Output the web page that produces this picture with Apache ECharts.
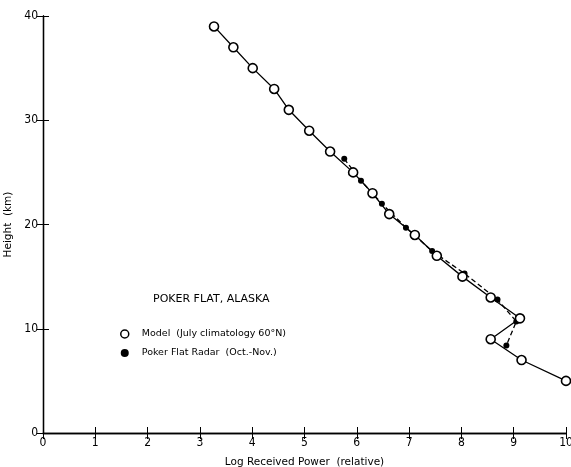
<!DOCTYPE html>
<html>
<head>
<meta charset="utf-8">
<script src="https://cdn.jsdelivr.net/npm/echarts@6/dist/echarts.min.js"></script>
<style>
  html, body { margin: 0; padding: 0; background: #fff; }
  #main { width: 571px; height: 467px; }
</style>
</head>
<body>
<div id="main"></div>
<script>
// model profile (open circles)
var modelPower = [3.27, 3.64, 4.01, 4.42, 4.70, 5.09, 5.49, 5.93, 6.30, 6.62, 7.11, 7.53, 8.02, 8.56, 9.12, 8.56, 9.15, 10.0];
var modelHeight = [39, 37, 35, 33, 31, 29, 27, 25, 23, 21, 19, 17, 15, 13, 11, 9, 7, 5];
// radar profile (filled dots)
var radarPower = [5.76, 6.08, 6.48, 6.94, 7.44, 8.06, 8.69, 9.05, 8.86];
var radarHeight = [26.3, 24.2, 22.0, 19.7, 17.45, 15.3, 12.8, 10.7, 8.4];

var modelName = 'Model  (July climatology 60°N)';
var radarName = 'Poker Flat Radar  (Oct.-Nov.)';

function pairs(xs, ys) {
    var out = [];
    for (var i = 0; i < xs.length; i++) {
        out.push([xs[i], ys[i]]);
    }
    return out;
}

var font = "'Liberation Sans Narrow', 'DejaVu Sans Condensed', sans-serif";
var axisLine = {show: true, lineStyle: {color: '#000', width: 1.3}};

var chart = echarts.init(document.getElementById('main'));
chart.setOption({
    animation: false,
    backgroundColor: '#fff',
    grid: {left: 43, right: 5, top: 16, bottom: 34, outerBoundsMode: 'none', containLabel: false},
    title: {
        text: 'POKER FLAT, ALASKA',
        left: 148, top: 289,
        textStyle: {fontFamily: 'DejaVu Sans', fontSize: 11, fontWeight: 'normal', color: '#000'}
    },
    legend: {
        orient: 'vertical',
        left: 115, top: 324,
        itemGap: 9,
        itemWidth: 8, itemHeight: 8,
        textStyle: {fontFamily: 'DejaVu Sans', fontSize: 9.5, color: '#000', padding: [0, 0, 0, 8]},
        data: [
            {name: modelName, icon: 'circle', itemStyle: {color: '#fff', borderColor: '#000', borderWidth: 1.5}},
            {name: radarName, icon: 'circle', itemStyle: {color: '#000', borderWidth: 0}}
        ]
    },
    xAxis: [{
        type: 'value', min: 0, max: 10, interval: 1,
        name: 'Log Received Power  (relative)',
        nameLocation: 'middle', nameGap: 24,
        nameTextStyle: {fontFamily: 'DejaVu Sans', fontSize: 10.5, color: '#000'},
        axisLine: axisLine,
        axisTick: {inside: true, length: 6, lineStyle: {color: '#000', width: 1}},
        axisLabel: {fontFamily: font, fontSize: 12, color: '#000', margin: 4},
        splitLine: {show: false}
    }, {
        type: 'value', min: 0, max: 10, interval: 1, position: 'top',
        axisLine: axisLine,
        axisTick: {inside: true, length: 6, lineStyle: {color: '#000', width: 1}},
        axisLabel: {show: false},
        splitLine: {show: false}
    }],
    yAxis: [{
        type: 'value', min: 0, max: 40, interval: 10,
        name: 'Height  (km)',
        nameLocation: 'middle', nameGap: 29, nameMoveOverlap: false,
        nameTextStyle: {fontFamily: 'DejaVu Sans', fontSize: 10.5, color: '#000'},
        axisLine: axisLine,
        axisTick: {inside: true, length: 6, lineStyle: {color: '#000', width: 1}},
        axisLabel: {fontFamily: font, fontSize: 12, color: '#000', margin: 5},
        splitLine: {show: false}
    }, {
        type: 'value', min: 0, max: 40, interval: 10, position: 'right',
        axisLine: axisLine,
        axisTick: {inside: true, length: 6, lineStyle: {color: '#000', width: 1}},
        axisLabel: {show: false},
        splitLine: {show: false}
    }],
    series: [{
        name: radarName,
        type: 'line',
        data: pairs(radarPower, radarHeight),
        symbol: 'circle', symbolSize: 6,
        lineStyle: {color: '#000', width: 1.3, type: [5, 3]},
        itemStyle: {color: '#000', borderWidth: 0},
        z: 2
    }, {
        name: modelName,
        type: 'line',
        data: pairs(modelPower, modelHeight),
        symbol: 'circle', symbolSize: 9,
        showAllSymbol: true,
        lineStyle: {color: '#000', width: 1.3},
        itemStyle: {color: '#fff', borderColor: '#000', borderWidth: 1.6},
        z: 3
    }]
});
</script>
</body>
</html>
